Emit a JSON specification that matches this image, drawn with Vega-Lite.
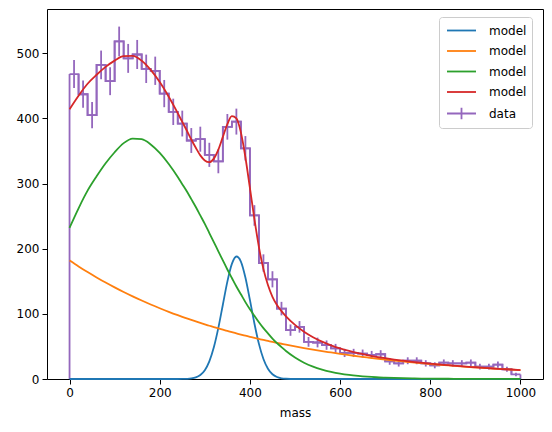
{
  "$schema": "https://vega.github.io/schema/vega-lite/v6.json",
  "width": 496,
  "height": 370,
  "autosize": {"type": "none"},
  "padding": {"left": 47, "top": 9, "right": 9, "bottom": 53},
  "config": {
    "view": {"stroke": "#000000", "strokeWidth": 1},
    "font": "DejaVu Sans",
    "axis": {
      "domain": false, "grid": false,
      "tickColor": "#000000", "tickSize": 5, "tickWidth": 1,
      "labelFont": "DejaVu Sans", "labelFontSize": 12, "labelColor": "#000000", "labelPadding": 3,
      "titleFont": "DejaVu Sans", "titleFontSize": 12, "titleColor": "#000000", "titleFontWeight": "normal"
    },
    "legend": {
      "orient": "none", "legendX": 392, "legendY": 8,
      "strokeColor": "#cccccc", "fillColor": "#ffffff", "cornerRadius": 3, "padding": 5,
      "symbolType": "M-2,0H2", "symbolSize": 210, "symbolStrokeWidth": 1.8, "symbolOffset": 9,
      "labelFont": "DejaVu Sans", "labelFontSize": 12, "labelColor": "#000000",
      "labelOffset": 19, "rowPadding": 5.5
    }
  },
  "datasets": {
    "bins": [
      {"lo": 0, "hi": 20, "mass": 10, "count": 468, "low": 446.4, "high": 489.6},
      {"lo": 20, "hi": 40, "mass": 30, "count": 437, "low": 416.1, "high": 457.9},
      {"lo": 40, "hi": 60, "mass": 50, "count": 405, "low": 384.9, "high": 425.1},
      {"lo": 60, "hi": 80, "mass": 70, "count": 482, "low": 460.0, "high": 504.0},
      {"lo": 80, "hi": 100, "mass": 90, "count": 457, "low": 435.6, "high": 478.4},
      {"lo": 100, "hi": 120, "mass": 110, "count": 518, "low": 495.2, "high": 540.8},
      {"lo": 120, "hi": 140, "mass": 130, "count": 492, "low": 469.8, "high": 514.2},
      {"lo": 140, "hi": 160, "mass": 150, "count": 498, "low": 475.7, "high": 520.3},
      {"lo": 160, "hi": 180, "mass": 170, "count": 476, "low": 454.2, "high": 497.8},
      {"lo": 180, "hi": 200, "mass": 190, "count": 473, "low": 451.3, "high": 494.7},
      {"lo": 200, "hi": 220, "mass": 210, "count": 438, "low": 417.1, "high": 458.9},
      {"lo": 220, "hi": 240, "mass": 230, "count": 410, "low": 389.8, "high": 430.2},
      {"lo": 240, "hi": 260, "mass": 250, "count": 392, "low": 372.2, "high": 411.8},
      {"lo": 260, "hi": 280, "mass": 270, "count": 366, "low": 346.9, "high": 385.1},
      {"lo": 280, "hi": 300, "mass": 290, "count": 368, "low": 348.8, "high": 387.2},
      {"lo": 300, "hi": 320, "mass": 310, "count": 344, "low": 325.5, "high": 362.5},
      {"lo": 320, "hi": 340, "mass": 330, "count": 334, "low": 315.7, "high": 352.3},
      {"lo": 340, "hi": 360, "mass": 350, "count": 387, "low": 367.3, "high": 406.7},
      {"lo": 360, "hi": 380, "mass": 370, "count": 395, "low": 375.1, "high": 414.9},
      {"lo": 380, "hi": 400, "mass": 390, "count": 354, "low": 335.2, "high": 372.8},
      {"lo": 400, "hi": 420, "mass": 410, "count": 251, "low": 235.2, "high": 266.8},
      {"lo": 420, "hi": 440, "mass": 430, "count": 178, "low": 164.7, "high": 191.3},
      {"lo": 440, "hi": 460, "mass": 450, "count": 153, "low": 140.6, "high": 165.4},
      {"lo": 460, "hi": 480, "mass": 470, "count": 108, "low": 97.6, "high": 118.4},
      {"lo": 480, "hi": 500, "mass": 490, "count": 75, "low": 66.3, "high": 83.7},
      {"lo": 500, "hi": 520, "mass": 510, "count": 80, "low": 71.1, "high": 88.9},
      {"lo": 520, "hi": 540, "mass": 530, "count": 57, "low": 49.5, "high": 64.5},
      {"lo": 540, "hi": 560, "mass": 550, "count": 56, "low": 48.5, "high": 63.5},
      {"lo": 560, "hi": 580, "mass": 570, "count": 52, "low": 44.8, "high": 59.2},
      {"lo": 580, "hi": 600, "mass": 590, "count": 47, "low": 40.1, "high": 53.9},
      {"lo": 600, "hi": 620, "mass": 610, "count": 40, "low": 33.7, "high": 46.3},
      {"lo": 620, "hi": 640, "mass": 630, "count": 40, "low": 33.7, "high": 46.3},
      {"lo": 640, "hi": 660, "mass": 650, "count": 39, "low": 32.8, "high": 45.2},
      {"lo": 660, "hi": 680, "mass": 670, "count": 37, "low": 30.9, "high": 43.1},
      {"lo": 680, "hi": 700, "mass": 690, "count": 38, "low": 31.8, "high": 44.2},
      {"lo": 700, "hi": 720, "mass": 710, "count": 27, "low": 21.8, "high": 32.2},
      {"lo": 720, "hi": 740, "mass": 730, "count": 24, "low": 19.1, "high": 28.9},
      {"lo": 740, "hi": 760, "mass": 750, "count": 28, "low": 22.7, "high": 33.3},
      {"lo": 760, "hi": 780, "mass": 770, "count": 28, "low": 22.7, "high": 33.3},
      {"lo": 780, "hi": 800, "mass": 790, "count": 24, "low": 19.1, "high": 28.9},
      {"lo": 800, "hi": 820, "mass": 810, "count": 21, "low": 16.4, "high": 25.6},
      {"lo": 820, "hi": 840, "mass": 830, "count": 25, "low": 20.0, "high": 30.0},
      {"lo": 840, "hi": 860, "mass": 850, "count": 24, "low": 19.1, "high": 28.9},
      {"lo": 860, "hi": 880, "mass": 870, "count": 24, "low": 19.1, "high": 28.9},
      {"lo": 880, "hi": 900, "mass": 890, "count": 25, "low": 20.0, "high": 30.0},
      {"lo": 900, "hi": 920, "mass": 910, "count": 19, "low": 14.6, "high": 23.4},
      {"lo": 920, "hi": 940, "mass": 930, "count": 19, "low": 14.6, "high": 23.4},
      {"lo": 940, "hi": 960, "mass": 950, "count": 22, "low": 17.3, "high": 26.7},
      {"lo": 960, "hi": 980, "mass": 970, "count": 15, "low": 11.1, "high": 18.9},
      {"lo": 980, "hi": 1000, "mass": 990, "count": 7, "low": 4.4, "high": 9.6}
    ],
    "models": [
      {"mass": 0, "m1": 0, "m2": 182, "m3": 232, "m4": 414},
      {"mass": 20, "m1": 0, "m2": 172.8, "m3": 262, "m4": 434.8},
      {"mass": 40, "m1": 0, "m2": 164.1, "m3": 289, "m4": 453.1},
      {"mass": 60, "m1": 0, "m2": 155.9, "m3": 311, "m4": 466.9},
      {"mass": 80, "m1": 0, "m2": 148.0, "m3": 331, "m4": 479.0},
      {"mass": 100, "m1": 0, "m2": 140.6, "m3": 348, "m4": 488.6},
      {"mass": 120, "m1": 0, "m2": 133.5, "m3": 362, "m4": 495.5},
      {"mass": 140, "m1": 0, "m2": 126.8, "m3": 369, "m4": 495.8},
      {"mass": 160, "m1": 0, "m2": 120.4, "m3": 368, "m4": 488.4},
      {"mass": 180, "m1": 0, "m2": 114.3, "m3": 360, "m4": 474.3},
      {"mass": 200, "m1": 0, "m2": 108.6, "m3": 347, "m4": 455.6},
      {"mass": 220, "m1": 0, "m2": 103.1, "m3": 330, "m4": 433.1},
      {"mass": 240, "m1": 0, "m2": 97.9, "m3": 310, "m4": 407.9},
      {"mass": 250, "m1": 0.1, "m2": 95.4, "m3": 299, "m4": 394.5},
      {"mass": 260, "m1": 0.3, "m2": 93.0, "m3": 288, "m4": 381.3},
      {"mass": 270, "m1": 0.9, "m2": 90.6, "m3": 276, "m4": 367.5},
      {"mass": 280, "m1": 2.5, "m2": 88.3, "m3": 264, "m4": 354.8},
      {"mass": 290, "m1": 6.2, "m2": 86.0, "m3": 251, "m4": 343.2},
      {"mass": 300, "m1": 13.6, "m2": 83.8, "m3": 238, "m4": 335.4},
      {"mass": 310, "m1": 27.1, "m2": 81.7, "m3": 224, "m4": 332.8},
      {"mass": 320, "m1": 48.6, "m2": 79.6, "m3": 210, "m4": 338.2},
      {"mass": 330, "m1": 78.4, "m2": 77.6, "m3": 196, "m4": 352.0},
      {"mass": 340, "m1": 114, "m2": 75.6, "m3": 182, "m4": 371.6},
      {"mass": 350, "m1": 149.5, "m2": 73.7, "m3": 168, "m4": 391.2},
      {"mass": 360, "m1": 176.6, "m2": 71.8, "m3": 155, "m4": 403.4},
      {"mass": 370, "m1": 188, "m2": 70.0, "m3": 142, "m4": 400},
      {"mass": 380, "m1": 180.3, "m2": 68.2, "m3": 130, "m4": 378.5},
      {"mass": 390, "m1": 155.8, "m2": 66.5, "m3": 118, "m4": 340.3},
      {"mass": 400, "m1": 121.4, "m2": 64.8, "m3": 107, "m4": 293.2},
      {"mass": 410, "m1": 85.2, "m2": 63.1, "m3": 97, "m4": 245.3},
      {"mass": 420, "m1": 53.9, "m2": 61.5, "m3": 87, "m4": 202.4},
      {"mass": 430, "m1": 30.7, "m2": 59.9, "m3": 78, "m4": 168.6},
      {"mass": 440, "m1": 15.8, "m2": 58.4, "m3": 70, "m4": 144.2},
      {"mass": 450, "m1": 7.3, "m2": 56.9, "m3": 62, "m4": 126.2},
      {"mass": 460, "m1": 3.0, "m2": 55.5, "m3": 55, "m4": 113.5},
      {"mass": 470, "m1": 1.1, "m2": 54.1, "m3": 49, "m4": 104.2},
      {"mass": 480, "m1": 0.4, "m2": 52.7, "m3": 43, "m4": 96.1},
      {"mass": 500, "m1": 0, "m2": 50.0, "m3": 33, "m4": 83},
      {"mass": 520, "m1": 0, "m2": 47.5, "m3": 25, "m4": 72.5},
      {"mass": 540, "m1": 0, "m2": 45.1, "m3": 19, "m4": 64.1},
      {"mass": 560, "m1": 0, "m2": 42.8, "m3": 14.5, "m4": 57.3},
      {"mass": 580, "m1": 0, "m2": 40.7, "m3": 11, "m4": 51.7},
      {"mass": 600, "m1": 0, "m2": 38.6, "m3": 8.3, "m4": 46.9},
      {"mass": 620, "m1": 0, "m2": 36.7, "m3": 6.3, "m4": 43},
      {"mass": 640, "m1": 0, "m2": 34.8, "m3": 4.8, "m4": 39.6},
      {"mass": 660, "m1": 0, "m2": 33.1, "m3": 3.6, "m4": 36.7},
      {"mass": 680, "m1": 0, "m2": 31.4, "m3": 2.7, "m4": 34.1},
      {"mass": 700, "m1": 0, "m2": 29.8, "m3": 2.1, "m4": 31.9},
      {"mass": 720, "m1": 0, "m2": 28.3, "m3": 1.6, "m4": 29.9},
      {"mass": 740, "m1": 0, "m2": 26.9, "m3": 1.2, "m4": 28.1},
      {"mass": 760, "m1": 0, "m2": 25.5, "m3": 0.9, "m4": 26.4},
      {"mass": 780, "m1": 0, "m2": 24.3, "m3": 0.7, "m4": 25.0},
      {"mass": 800, "m1": 0, "m2": 23.0, "m3": 0.5, "m4": 23.5},
      {"mass": 820, "m1": 0, "m2": 21.9, "m3": 0.4, "m4": 22.3},
      {"mass": 840, "m1": 0, "m2": 20.8, "m3": 0.35, "m4": 21.2},
      {"mass": 860, "m1": 0, "m2": 19.7, "m3": 0.3, "m4": 20.0},
      {"mass": 880, "m1": 0, "m2": 18.7, "m3": 0.2, "m4": 18.9},
      {"mass": 900, "m1": 0, "m2": 17.8, "m3": 0.15, "m4": 18.0},
      {"mass": 920, "m1": 0, "m2": 16.9, "m3": 0.12, "m4": 17.0},
      {"mass": 940, "m1": 0, "m2": 16.0, "m3": 0.1, "m4": 16.1},
      {"mass": 960, "m1": 0, "m2": 15.2, "m3": 0.08, "m4": 15.3},
      {"mass": 980, "m1": 0, "m2": 14.5, "m3": 0.06, "m4": 14.6},
      {"mass": 1000, "m1": 0, "m2": 13.7, "m3": 0.04, "m4": 13.7}
    ]
  },
  "encoding": {
    "x": {
      "type": "quantitative",
      "scale": {"domain": [-50, 1050], "nice": false, "zero": false},
      "axis": {"values": [0, 200, 400, 600, 800, 1000], "format": "d", "title": "mass", "titlePadding": 9}
    },
    "y": {
      "type": "quantitative",
      "scale": {"domain": [0, 567.8], "nice": false, "zero": false},
      "axis": {"values": [0, 100, 200, 300, 400, 500], "format": "d", "title": null}
    }
  },
  "layer": [
    {
      "data": {"name": "bins"},
      "mark": {"type": "line", "interpolate": "step-after", "color": "#9467bd", "strokeWidth": 1.8, "strokeCap": "butt"},
      "encoding": {"x": {"field": "lo"}, "y": {"field": "count"}}
    },
    {
      "data": {"name": "bins"},
      "mark": {"type": "line", "interpolate": "step-before", "color": "#9467bd", "strokeWidth": 1.8, "strokeCap": "butt"},
      "encoding": {"x": {"field": "hi"}, "y": {"field": "count"}}
    },
    {
      "data": {"name": "bins"},
      "transform": [{"filter": "datum.lo == 0"}],
      "mark": {"type": "rule", "color": "#9467bd", "strokeWidth": 1.8},
      "encoding": {"x": {"field": "lo"}, "y": {"field": "count"}, "y2": {"datum": 0}}
    },
    {
      "data": {"name": "bins"},
      "transform": [{"filter": "datum.hi == 1000"}],
      "mark": {"type": "rule", "color": "#9467bd", "strokeWidth": 1.8},
      "encoding": {"x": {"field": "hi"}, "y": {"field": "count"}, "y2": {"datum": 0}}
    },
    {
      "data": {"name": "bins"},
      "mark": {"type": "rule", "color": "#9467bd", "strokeWidth": 1.8},
      "encoding": {"x": {"field": "mass"}, "y": {"field": "low"}, "y2": {"field": "high"}}
    },
    {
      "data": {"name": "models"},
      "transform": [{"fold": ["m1", "m2", "m3", "m4"], "as": ["series", "value"]}],
      "mark": {"type": "line", "interpolate": "monotone", "strokeWidth": 1.8},
      "encoding": {
        "x": {"field": "mass"},
        "y": {"field": "value"},
        "color": {
          "field": "series", "type": "nominal",
          "scale": {"domain": ["m1", "m2", "m3", "m4", "data"], "range": ["#1f77b4", "#ff7f0e", "#2ca02c", "#d62728", "#9467bd"]},
          "legend": {
            "title": null,
            "labelExpr": "datum.label == 'data' ? 'data' : 'model'",
            "encode": {
              "symbols": {"update": {"shape": {"signal": "datum.value == 'data' ? 'M-2,0H2M0,-0.8V0.8' : 'M-2,0H2'"}, "strokeWidth": {"value": 1.8}, "fill": {"value": "transparent"}}}
            }
          }
        }
      }
    }
  ]
}
